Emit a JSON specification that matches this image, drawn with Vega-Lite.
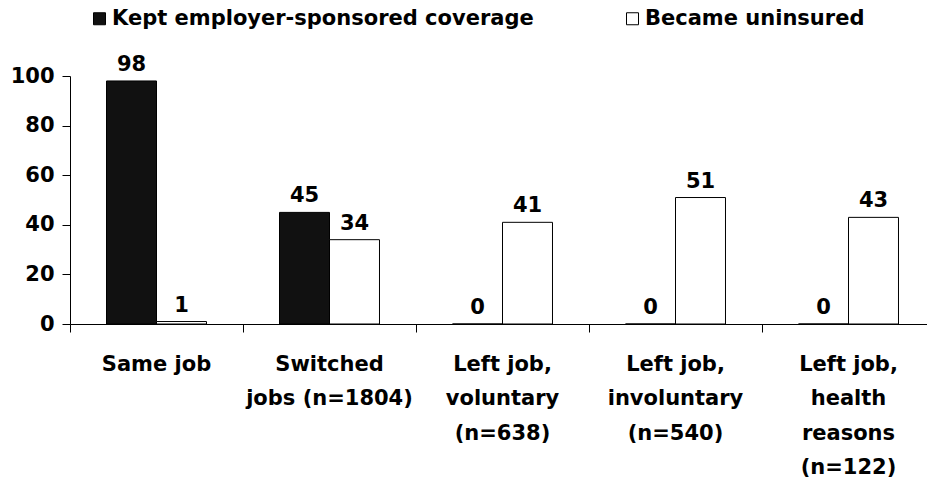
{
  "$schema": "https://vega.github.io/schema/vega-lite/v6.json",
  "width": 857,
  "height": 248,
  "autosize": {"type": "none"},
  "padding": {"left": 70, "top": 76, "right": 0, "bottom": 155},
  "background": "white",
  "config": {"view": {"stroke": null}, "font": "DejaVu Sans"},
  "data": {
    "values": [
      {"cat": "Same job", "series": "Kept employer-sponsored coverage", "value": 98},
      {"cat": "Same job", "series": "Became uninsured", "value": 1},
      {"cat": "Switched|jobs (n=1804)", "series": "Kept employer-sponsored coverage", "value": 45},
      {"cat": "Switched|jobs (n=1804)", "series": "Became uninsured", "value": 34},
      {"cat": "Left job,|voluntary|(n=638)", "series": "Kept employer-sponsored coverage", "value": 0},
      {"cat": "Left job,|voluntary|(n=638)", "series": "Became uninsured", "value": 41},
      {"cat": "Left job,|involuntary|(n=540)", "series": "Kept employer-sponsored coverage", "value": 0},
      {"cat": "Left job,|involuntary|(n=540)", "series": "Became uninsured", "value": 51},
      {"cat": "Left job,|health|reasons|(n=122)", "series": "Kept employer-sponsored coverage", "value": 0},
      {"cat": "Left job,|health|reasons|(n=122)", "series": "Became uninsured", "value": 43}
    ]
  },
  "encoding": {
    "x": {
      "field": "cat",
      "type": "nominal",
      "sort": null,
      "scale": {"range": [0, 865], "paddingInner": 0.422, "paddingOuter": 0.211},
      "axis": {
        "title": null,
        "labelAngle": 0,
        "ticks": true,
        "bandPosition": -0.365,
        "tickSize": 8,
        "tickWidth": 1,
        "domainColor": "black",
        "domainWidth": 1,
        "tickColor": "black",
        "labelFont": "DejaVu Sans",
        "labelFontWeight": "bold",
        "labelFontSize": 21,
        "labelColor": "black",
        "labelExpr": "split(datum.label, '|')",
        "labelLineHeight": 34.5,
        "labelPadding": 21,
        "labelBaseline": "top",
        "labelLimit": 0,
        "labelOverlap": false,
        "labelFlush": false
      }
    },
    "xOffset": {"field": "series", "type": "nominal", "sort": ["Kept employer-sponsored coverage", "Became uninsured"]},
    "y": {
      "field": "value",
      "type": "quantitative",
      "scale": {"domain": [0, 100]},
      "axis": {
        "title": null,
        "values": [0, 20, 40, 60, 80, 100],
        "grid": false,
        "tickSize": 8,
        "labelPadding": 8,
        "domainColor": "black",
        "tickColor": "black",
        "labelFont": "DejaVu Sans",
        "labelFontWeight": "bold",
        "labelFontSize": 21,
        "labelColor": "black"
      }
    }
  },
  "layer": [
    {
      "mark": {"type": "bar", "stroke": "black", "strokeWidth": 1},
      "encoding": {
        "color": {
          "field": "series",
          "type": "nominal",
          "scale": {"domain": ["Kept employer-sponsored coverage", "Became uninsured"], "range": ["#111111", "#ffffff"]},
          "legend": {
            "orient": "none",
            "legendX": 19,
            "legendY": -68,
            "direction": "horizontal",
            "title": null,
            "symbolType": "square",
            "symbolSize": 144,
            "symbolStrokeColor": "black",
            "symbolStrokeWidth": 1,
            "symbolOpacity": 1,
            "labelFont": "DejaVu Sans",
            "labelFontWeight": "bold",
            "labelFontSize": 21,
            "labelColor": "black",
            "labelOffset": 2,
            "columnPadding": 88,
            "labelLimit": 0,
            "padding": 0
          }
        }
      }
    },
    {
      "mark": {"type": "text", "dy": -10, "baseline": "alphabetic", "fontSize": 21, "fontWeight": "bold", "font": "DejaVu Sans", "color": "black"},
      "encoding": {"text": {"field": "value", "type": "quantitative"}}
    }
  ]
}
